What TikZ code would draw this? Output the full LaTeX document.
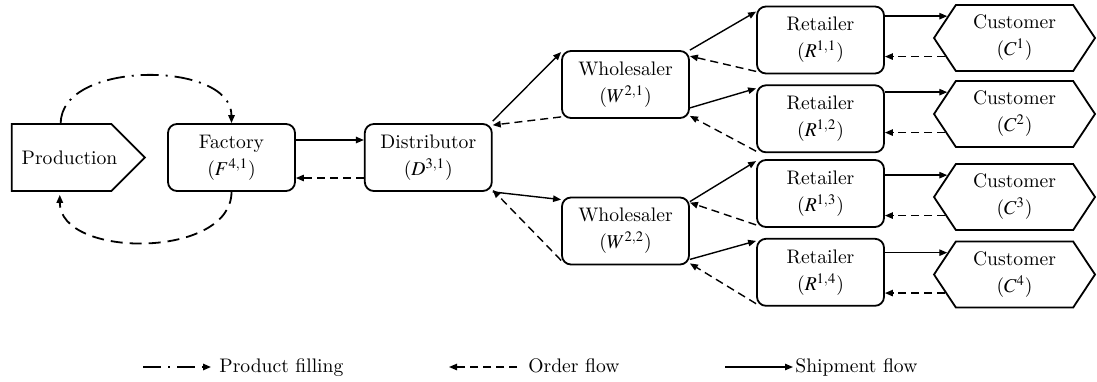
\documentclass[tikz,border=0pt]{standalone}
\usepackage{mathptmx}
\usetikzlibrary{positioning, arrows.meta, shapes.symbols, calc}

\begin{document}
\begin{tikzpicture}[x=0.5pt, y=-0.5pt,
  every node/.style={font=\fontsize{9.8}{13.5}\selectfont},
  src/.style={draw, signal, signal to=east, signal pointer angle=90,
              minimum width=66.5pt, minimum height=33.5pt, line width=0.9pt, inner sep=1pt},
  stage/.style={draw, rounded corners=4.5pt, minimum width=63.5pt, minimum height=33.5pt,
                line width=0.9pt, align=center, inner sep=1pt},
  cust/.style={draw, signal, signal to=west and east, signal pointer angle=113,
               minimum width=80.5pt, minimum height=33pt, line width=0.9pt,
               align=center, inner sep=1pt},
  ship/.style={-{Triangle[length=4pt, width=3.2pt]}, line width=0.7pt},
  order/.style={ship, dash pattern=on 4pt off 2.5pt},
  refill/.style={ship, line width=0.9pt, dash pattern=on 9pt off 3.5pt on 1pt off 3.5pt},
  back/.style={ship, line width=0.9pt, dash pattern=on 6pt off 3.5pt},
  lgd/.style={anchor=base west, inner sep=0pt},
]
\useasboundingbox (0,0) rectangle (1097,381);

% ===== SUPPLY CHAIN STAGES =====
\node[src] (prod) at (61.5,157.5) {\hspace*{4pt}Production\hspace*{-4pt}};
\node[stage] (fac) at (231.5,157.5) {Factory\\$(F^{4,1})$};
\node[stage, right=34pt of fac] (dis) {Distributor\\$(D^{3,1})$};

\node[stage] (w1) at (625.5,84.5) {Wholesaler\\$(W^{2,1})$};
\node[stage] (w2) at (625.5,231) {Wholesaler\\$(W^{2,2})$};

\node[stage] (r1) at (820.5,40) {Retailer\\$(R^{1,1})$};
\node[stage, below=5pt of r1] (r2) {Retailer\\$(R^{1,2})$};
\node[stage] (r3) at (820.5,193.5) {Retailer\\$(R^{1,3})$};
\node[stage, below=5pt of r3] (r4) {Retailer\\$(R^{1,4})$};

\node[cust] (c1) at (1014.5,38) {Customer\\$(C^{1})$};
\node[cust] (c2) at (1014.5,114) {Customer\\$(C^{2})$};
\node[cust] (c3) at (1014.5,197) {Customer\\$(C^{3})$};
\node[cust] (c4) at (1014.5,274.5) {Customer\\$(C^{4})$};

% ===== PRODUCTION LOOP =====
\draw[refill] ([xshift=25pt]prod.north west) .. controls +(0,-63) and +(0,-63) .. (fac.north);
\draw[back] (fac.south) .. controls +(0,67) and +(0,64) .. ([xshift=24.5pt, yshift=-1.5pt]prod.south west);

% ===== FACTORY <-> DISTRIBUTOR =====
\draw[ship] ([yshift=8.75pt]fac.east) -- ([yshift=8.75pt]dis.west);
\draw[order] ([yshift=-10.25pt]dis.west) -- ([yshift=-10.25pt]fac.east);

% ===== DISTRIBUTOR <-> WHOLESALERS =====
\draw[ship] ([yshift=1pt]dis.north east) -- ([yshift=-1pt]w1.north west);
\draw[order] ([yshift=1pt]w1.south west) -- ([yshift=-1pt]dis.north east);
\draw[ship] (dis.south east) -- ([yshift=-1.5pt]w2.north west);
\draw[order] ([yshift=2.5pt]w2.south west) -- ([yshift=1pt]dis.south east);

% ===== WHOLESALERS <-> RETAILERS =====
\draw[ship] (w1.north east) -- ([yshift=-3pt]r1.north west);
\draw[order] ([yshift=1.5pt]r1.south west) -- ([yshift=-3pt]w1.north east);
\draw[ship] ([yshift=5.5pt]w1.south east) -- ([yshift=-2pt]r2.north west);
\draw[order] ([yshift=1pt]r2.south west) -- ([yshift=1.5pt]w1.south east);
\draw[ship] ([yshift=-2.5pt]w2.north east) -- ([yshift=-1pt]r3.north west);
\draw[order] ([yshift=1.5pt]r3.south west) -- ([yshift=-3pt]w2.north east);
\draw[ship] ([yshift=3pt]w2.south east) -- ([yshift=-1.5pt]r4.north west);
\draw[order] ([yshift=1.5pt]r4.south west) -- ([yshift=1pt]w2.south east);

% ===== RETAILERS <-> CUSTOMERS =====
\draw[ship] (r1.east |- c1.162) -- (c1.162);
\draw[order] (c1.195) -- (r1.east |- c1.195);
\draw[ship] (r2.east |- c2.162) -- (c2.162);
\draw[order] (c2.195) -- (r2.east |- c2.195);
\draw[ship] (r3.east |- c3.162) -- (c3.162);
\draw[order] (c3.195) -- (r3.east |- c3.195);
\draw[ship] (r4.east |- c4.162) -- (c4.162);
\draw[order] (c4.195) -- (r4.east |- c4.195);

% ===== LEGEND =====
\coordinate (k1) at (143,367);
\coordinate (k2) at (449,367);
\coordinate (k3) at (725,367);
\node[lgd] (l1) at (219,372) {Product filling};
\node[lgd] (l2) at (528,372) {Order flow};
\node[lgd] (l3) at (795,372) {Shipment flow};
\draw[refill] (k1) -- ([xshift=-4pt]k1 -| l1.west);
\draw[order] ([xshift=-5.5pt]k2 -| l2.west) -- (k2);
\draw[ship] (k3) -- ([xshift=-1pt]k3 -| l3.west);

\end{tikzpicture}
\end{document}
